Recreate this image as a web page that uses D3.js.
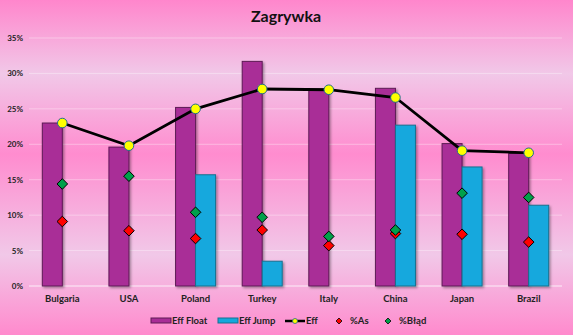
<!DOCTYPE html>
<html><head><meta charset="utf-8">
<script src="https://cdn.jsdelivr.net/npm/d3@7"></script>
<style>body{margin:0;}svg{display:block;font-family:Lato,"Liberation Sans",Arial,sans-serif;}</style>
</head><body><svg id="c" width="573" height="335"></svg>
<script>
const categories = ["Bulgaria","USA","Poland","Turkey","Italy","China","Japan","Brazil"];
const effFloat = [23.0,19.6,25.2,31.7,27.8,27.9,20.1,18.7];
const effJump  = [0,0,15.7,3.5,0,22.7,16.8,11.4];
const eff      = [23.0,19.8,25.0,27.8,27.7,26.6,19.1,18.8];
const pctAs    = [9.1,7.8,6.7,7.9,5.7,7.4,7.3,6.2];
const pctBlad  = [14.4,15.5,10.4,9.7,7.0,7.9,13.1,12.5];
const yTicks   = [0,5,10,15,20,25,30,35];

const svg = d3.select("#c");
const W=573,H=335;
const defs = svg.append("defs");
const g = defs.append("linearGradient").attr("id","bg").attr("x1",0).attr("y1",0).attr("x2",0).attr("y2",1);
[[0,"#ff86cc"],[0.22,"#f1c8e8"],[0.46,"#ff8ccf"],[0.76,"#f1c8e8"],[1,"#ff8acd"]].forEach(s=>g.append("stop").attr("offset",s[0]).attr("stop-color",s[1]));
const sh = defs.append("filter").attr("id","sh").attr("x","-20%").attr("y","-20%").attr("width","150%").attr("height","150%");
sh.append("feDropShadow").attr("dx",1.5).attr("dy",1.5).attr("stdDeviation",1).attr("flood-color","#000").attr("flood-opacity",0.35);
svg.append("rect").attr("width",W).attr("height",H).attr("fill","url(#bg)");

const x = d3.scaleBand().domain(categories).range([29,562]);
const y = d3.scaleLinear().domain([0,35]).range([286,38]);
const bw = 20;

// gridlines
svg.append("g").selectAll("line").data(yTicks).join("line")
  .attr("x1",29).attr("x2",562).attr("y1",d=>y(d)).attr("y2",d=>y(d))
  .attr("stroke","#ffffff").attr("stroke-opacity",d=>d===0?0.8:0.35).attr("stroke-width",1);

// y axis labels
const ya = svg.append("g").attr("transform","translate(23,0)")
  .call(d3.axisLeft(y).tickValues(yTicks).tickFormat(d=>d+"%").tickSize(0).tickPadding(0));
ya.select(".domain").remove();
ya.selectAll("text").attr("font-size",8).attr("font-weight","bold").attr("fill","#222").attr("font-family","Lato,sans-serif");

// x axis labels
const xa = svg.append("g").attr("transform","translate(0,295)")
  .call(d3.axisBottom(x).tickSize(0).tickPadding(0));
xa.select(".domain").remove();
xa.selectAll("text").attr("font-size",9.5).attr("font-weight","bold").attr("fill","#222").attr("dy","0.71em").attr("font-family","Lato,sans-serif");

const cx = d=>x(d)+x.bandwidth()/2;

// bars
svg.append("g").attr("filter","url(#sh)").selectAll("rect").data(categories).join("rect")
  .attr("x",d=>cx(d)-bw).attr("width",bw)
  .attr("y",(d,i)=>y(effFloat[i])).attr("height",(d,i)=>y(0)-y(effFloat[i]))
  .attr("fill","#a92d97").attr("stroke","#5e1a55").attr("stroke-width",1);
svg.append("g").attr("filter","url(#sh)").selectAll("rect").data(categories.filter((d,i)=>effJump[i]>0)).join("rect")
  .attr("x",d=>cx(d)).attr("width",bw)
  .attr("y",d=>y(effJump[categories.indexOf(d)])).attr("height",d=>y(0)-y(effJump[categories.indexOf(d)]))
  .attr("fill","#13a8dd").attr("stroke","#17708f").attr("stroke-width",1);

// line
const line = d3.line().x((d,i)=>cx(categories[i])).y(d=>y(d));
svg.append("path").datum(eff).attr("d",line).attr("fill","none").attr("stroke","#000").attr("stroke-width",2.8);
svg.append("g").selectAll("circle").data(eff).join("circle")
  .attr("cx",(d,i)=>cx(categories[i])).attr("cy",d=>y(d)).attr("r",4.8)
  .attr("fill","#ffff00").attr("stroke","#1f6f8b").attr("stroke-width",1);

// diamonds
const diamond = (sel,data,fill)=>sel.append("g").selectAll("path").data(data).join("path")
  .attr("d","M0,-5.3L5.3,0L0,5.3L-5.3,0Z")
  .attr("transform",(d,i)=>`translate(${cx(categories[i])},${y(d)})`)
  .attr("fill",fill).attr("stroke","#000").attr("stroke-width",1);
diamond(svg,pctAs,"#ff0000");
diamond(svg,pctBlad,"#00a04a");

// title
svg.append("text").attr("x",286).attr("y",22).attr("text-anchor","middle")
  .attr("font-size",16).attr("font-weight","bold").attr("fill","#111").text("Zagrywka");

// legend
const lg = svg.append("g").attr("font-size",9.5).attr("font-weight","bold").attr("fill","#222");
const ly = 321;
lg.append("rect").attr("x",151).attr("y",ly-3).attr("width",20).attr("height",5).attr("fill","#a92d97").attr("stroke","#5e1a55");
lg.append("text").attr("x",172).attr("y",ly).attr("dy","0.35em").text("Eff Float");
lg.append("rect").attr("x",218).attr("y",ly-3).attr("width",20).attr("height",5).attr("fill","#13a8dd").attr("stroke","#17708f");
lg.append("text").attr("x",239).attr("y",ly).attr("dy","0.35em").text("Eff Jump");
lg.append("line").attr("x1",285).attr("x2",305).attr("y1",ly).attr("y2",ly).attr("stroke","#000").attr("stroke-width",2.5);
lg.append("circle").attr("cx",295).attr("cy",ly).attr("r",2.5).attr("fill","#ffff00").attr("stroke","#1f6f8b").attr("stroke-width",0.8);
lg.append("text").attr("x",306).attr("y",ly).attr("dy","0.35em").text("Eff");
lg.append("path").attr("d","M0,-3L3,0L0,3L-3,0Z").attr("transform",`translate(339,${ly})`).attr("fill","#ff0000").attr("stroke","#000").attr("stroke-width",0.8);
lg.append("text").attr("x",350).attr("y",ly).attr("dy","0.35em").text("%As");
lg.append("path").attr("d","M0,-3L3,0L0,3L-3,0Z").attr("transform",`translate(388,${ly})`).attr("fill","#00a04a").attr("stroke","#000").attr("stroke-width",0.8);
lg.append("text").attr("x",399).attr("y",ly).attr("dy","0.35em").text("%Błąd");
</script></body></html>
